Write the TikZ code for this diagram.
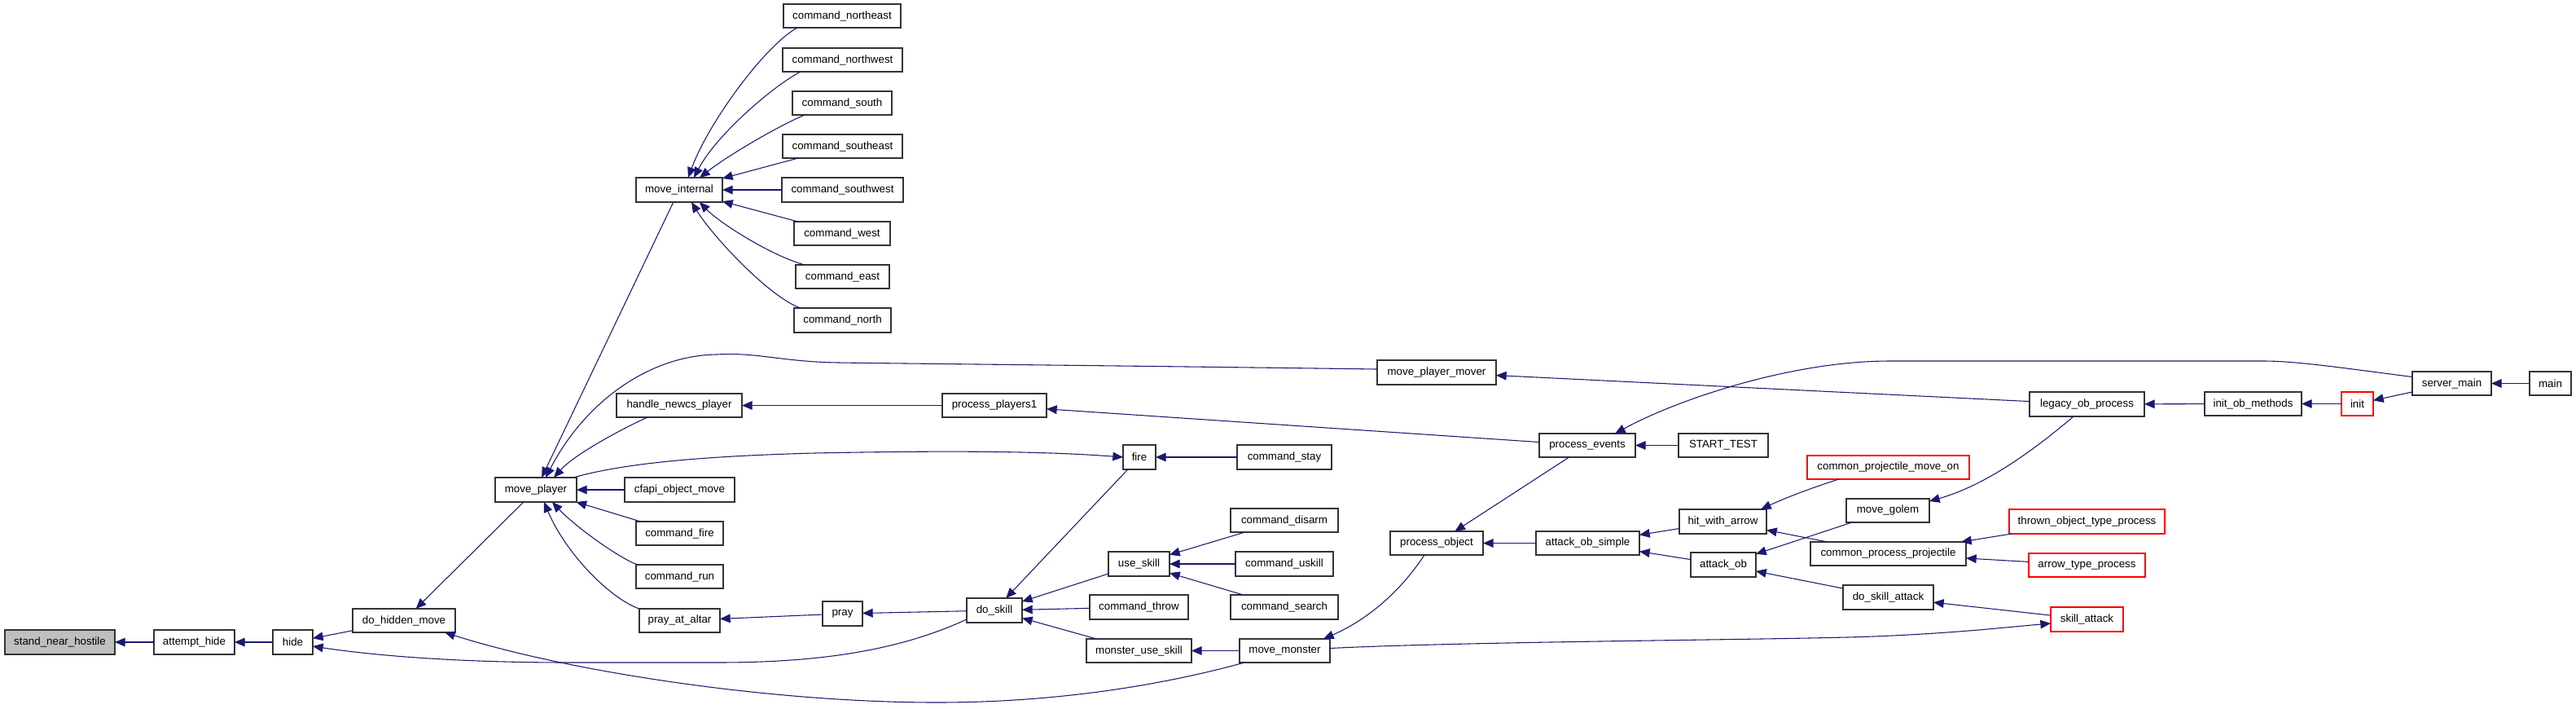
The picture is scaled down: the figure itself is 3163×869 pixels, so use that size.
\documentclass[tikz,border=0pt]{standalone}
\usepackage{fontspec}
\setmainfont{Liberation Sans}
\usetikzlibrary{arrows.meta,calc}
\definecolor{edgeblue}{HTML}{191970}
\definecolor{boxline}{HTML}{333333}
\definecolor{redline}{HTML}{FF0000}
\definecolor{grayfill}{HTML}{BFBFBF}
\tikzset{
 fnbox/.style={draw=boxline, line width=0.9pt, fill=white, inner sep=0pt, outer sep=0pt, font=\fontsize{10}{12}\selectfont, anchor=center},
 redbox/.style={draw=redline},
 rootbox/.style={fill=grayfill},
 edge/.style={draw=edgeblue, line width=0.8pt, -{Triangle[length=9.5pt,width=8pt]}}
}
\newcommand\fnode[7][]{\node[fnbox,#1,minimum width={(#5-#3)*0.75pt},minimum height={(#6-#4)*0.75pt}] (#2) at ({(#3+#5)/2},{(#4+#6)/2}) {#7};}
\begin{document}
\begin{tikzpicture}[x=0.75pt,y=-0.75pt]
\useasboundingbox (0,0) rectangle (3163,869);
% nodes
\fnode[rootbox]{snh}{6}{773}{141}{803}{stand\_near\_hostile}
\fnode{ah}{189}{773}{288}{803}{attempt\_hide}
\fnode{hide}{335}{773}{384}{803}{hide}
\fnode{dhm}{433}{747}{559}{776}{do\_hidden\_move}
\fnode{mp}{608}{586}{708}{616}{move\_player}
\fnode{mi}{781}{218}{887}{248}{move\_internal}
\fnode{cne}{962}{5}{1106}{34}{command\_northeast}
\fnode{cnw}{961}{59}{1108}{88}{command\_northwest}
\fnode{cs}{973}{112}{1095}{141}{command\_south}
\fnode{cse}{961}{165}{1108}{194}{command\_southeast}
\fnode{csw}{960}{218}{1109}{248}{command\_southwest}
\fnode{cw}{975}{272}{1093}{301}{command\_west}
\fnode{ce}{977}{325}{1092}{354}{command\_east}
\fnode{cn}{975}{378}{1094}{408}{command\_north}
\fnode{hnp}{757}{483}{911}{512}{handle\_newcs\_player}
\fnode{com}{767}{586}{902}{616}{cfapi\_object\_move}
\fnode{cf}{781}{640}{888}{669}{command\_fire}
\fnode{cr}{781}{693}{888}{722}{command\_run}
\fnode{paa}{785}{747}{884}{776}{pray\_at\_altar}
\fnode{pray}{1010}{738}{1059}{768}{pray}
\fnode{pp1}{1157}{483}{1285}{512}{process\_players1}
\fnode{fire}{1379}{546}{1419}{576}{fire}
\fnode{cst}{1519}{546}{1635}{576}{command\_stay}
\fnode{cdi}{1511}{624}{1643}{653}{command\_disarm}
\fnode{us}{1361}{677}{1436}{707}{use\_skill}
\fnode{cus}{1517}{677}{1637}{707}{command\_uskill}
\fnode{csr}{1511}{730}{1643}{760}{command\_search}
\fnode{ds}{1187}{734}{1255}{764}{do\_skill}
\fnode{cth}{1338}{730}{1459}{760}{command\_throw}
\fnode{mus}{1334}{784}{1463}{813}{monster\_use\_skill}
\fnode{mm}{1522}{784}{1633}{813}{move\_monster}
\fnode{mpm}{1691}{442}{1837}{472}{move\_player\_mover}
\fnode{pe}{1890}{532}{2008}{561}{process\_events}
\fnode{st}{2061}{532}{2171}{561}{START\_TEST}
\fnode{po}{1707}{652}{1821}{681}{process\_object}
\fnode{aos}{1886}{652}{2013}{681}{attack\_ob\_simple}
\fnode{hwa}{2062}{625}{2169}{655}{hit\_with\_arrow}
\fnode{ao}{2076}{678}{2156}{708}{attack\_ob}
\fnode{lop}{2492}{481}{2633}{511}{legacy\_ob\_process}
\fnode[redbox]{cpmo}{2219}{559}{2418}{588}{common\_projectile\_move\_on}
\fnode{mg}{2267}{612}{2369}{641}{move\_golem}
\fnode[redbox]{totp}{2467}{625}{2658}{655}{thrown\_object\_type\_process}
\fnode{cpp}{2223}{665}{2414}{694}{common\_process\_projectile}
\fnode[redbox]{atp}{2491}{679}{2634}{708}{arrow\_type\_process}
\fnode{dsa}{2263}{718}{2374}{748}{do\_skill\_attack}
\fnode[redbox]{sa}{2518}{745}{2607}{775}{skill\_attack}
\fnode{iom}{2707}{481}{2826}{510}{init\_ob\_methods}
\fnode[redbox]{init}{2875}{481}{2914}{510}{init}
\fnode{sm}{2962}{456}{3059}{485}{server\_main}
\fnode{main}{3106}{456}{3157}{485}{main}
% edges
\draw[edge] (ah) -- (snh);
\draw[edge] (hide) -- (ah);
\draw[edge] (dhm) -- (hide);
\draw[edge] ([shift={(0,-4)}]ds.south west) .. controls (1100,800) and (1000,813) .. (880,813) -- (700,813) .. controls (550,813) and (450,803) .. ([shift={(0,5)}]hide.east);
\draw[edge] (mp) -- (dhm);
\draw[edge] ([shift={(6,0)}]mm.south west) .. controls (1430,840) and (1300,862) .. (1150,862) .. controls (950,862) and (700,825) .. ([shift={(-13,0)}]dhm.south east);
\draw[edge] (mi) -- (mp);
\draw[edge] ([shift={(17,0)}]cne.south west) .. controls (940,55) and (870,150) .. ([shift={(64,0)}]mi.north west);
\draw[edge] ([shift={(22,0)}]cnw.south west) .. controls (950,105) and (880,165) .. ([shift={(71,0)}]mi.north west);
\draw[edge] ([shift={(15,0)}]cs.south west) .. controls (955,155) and (895,190) .. ([shift={(78,0)}]mi.north west);
\draw[edge] (cse) -- (mi);
\draw[edge] (csw) -- (mi);
\draw[edge] (cw) -- (mi);
\draw[edge] ([shift={(11,0)}]ce.north west) .. controls (950,315) and (885,275) .. ([shift={(78,0)}]mi.south west);
\draw[edge] ([shift={(8,0)}]cn.north west) .. controls (945,365) and (875,290) .. ([shift={(68,0)}]mi.south west);
\draw[edge] ([shift={(38,0)}]hnp.south west) .. controls (760,528) and (705,558) .. ([shift={(72,0)}]mp.north west);
\draw[edge] (com) -- (mp);
\draw[edge] (cf) -- (mp);
\draw[edge] ([shift={(2,0)}]cr.north west) .. controls (760,685) and (705,645) .. ([shift={(70,0)}]mp.south west);
\draw[edge] (paa.north west) .. controls (750,735) and (695,680) .. ([shift={(60,0)}]mp.south west);
\draw[edge] ([shift={(0,-4)}]mpm.west) .. controls (1400,449) and (1100,446) .. (1030,445) .. controls (960,444) and (930,432) .. (880,435) .. controls (800,436) and (720,490) .. ([shift={(62,0)}]mp.north west);
\draw[edge] ([shift={(-4,0)}]mp.north east) .. controls (760,570) and (850,560) .. (1000,556) .. controls (1200,552) and (1300,555) .. (fire.west);
\draw[edge] (pray) -- (paa);
\draw[edge] (ds) -- (pray);
\draw[edge] (pp1) -- (hnp);
\draw[edge] (pe) -- (pp1);
\draw[edge] (fire) -- (ds);
\draw[edge] (cst) -- (fire);
\draw[edge] (us) -- (ds);
\draw[edge] (cth) -- (ds);
\draw[edge] (mus) -- (ds);
\draw[edge] (cdi) -- (us);
\draw[edge] (cus) -- (us);
\draw[edge] (csr) -- (us);
\draw[edge] (mm) -- (mus);
\draw[edge] ([shift={(0,-3)}]mm.east) .. controls (1800,787) and (2200,785) .. (2300,781) .. controls (2400,777) and (2460,770) .. ([shift={(0,5)}]sa.west);
\draw[edge] ([shift={(42,0)}]po.south west) .. controls (1720,725) and (1680,760) .. ([shift={(-8,0)}]mm.north east);
\draw[edge] (pe) -- (po);
\draw[edge] (aos) -- (po);
\draw[edge] ([shift={(0,-8)}]sm.west) .. controls (2880,452) and (2820,443) .. (2780,443) -- (2320,443) .. controls (2200,443) and (2060,490) .. ([shift={(-25,0)}]pe.north east);
\draw[edge] (st) -- (pe);
\draw[edge] (lop) -- (mpm);
\draw[edge] ([shift={(54,0)}]lop.south west) .. controls (2500,550) and (2440,595) .. ([shift={(0,3)}]mg.north east);
\draw[edge] (iom) -- (lop);
\draw[edge] (init) -- (iom);
\draw[edge] (sm) -- (init);
\draw[edge] (main) -- (sm);
\draw[edge] (hwa) -- (aos);
\draw[edge] (ao) -- (aos);
\draw[edge] ([shift={(39,0)}]cpmo.south west) .. controls (2220,600) and (2190,612) .. ([shift={(-7,0)}]hwa.north east);
\draw[edge] (cpp) -- (hwa);
\draw[edge] (mg) -- (ao);
\draw[edge] (dsa) -- (ao);
\draw[edge] (totp) -- (cpp);
\draw[edge] (atp) -- (cpp);
\draw[edge] (sa) -- (dsa);
\end{tikzpicture}
\end{document}
